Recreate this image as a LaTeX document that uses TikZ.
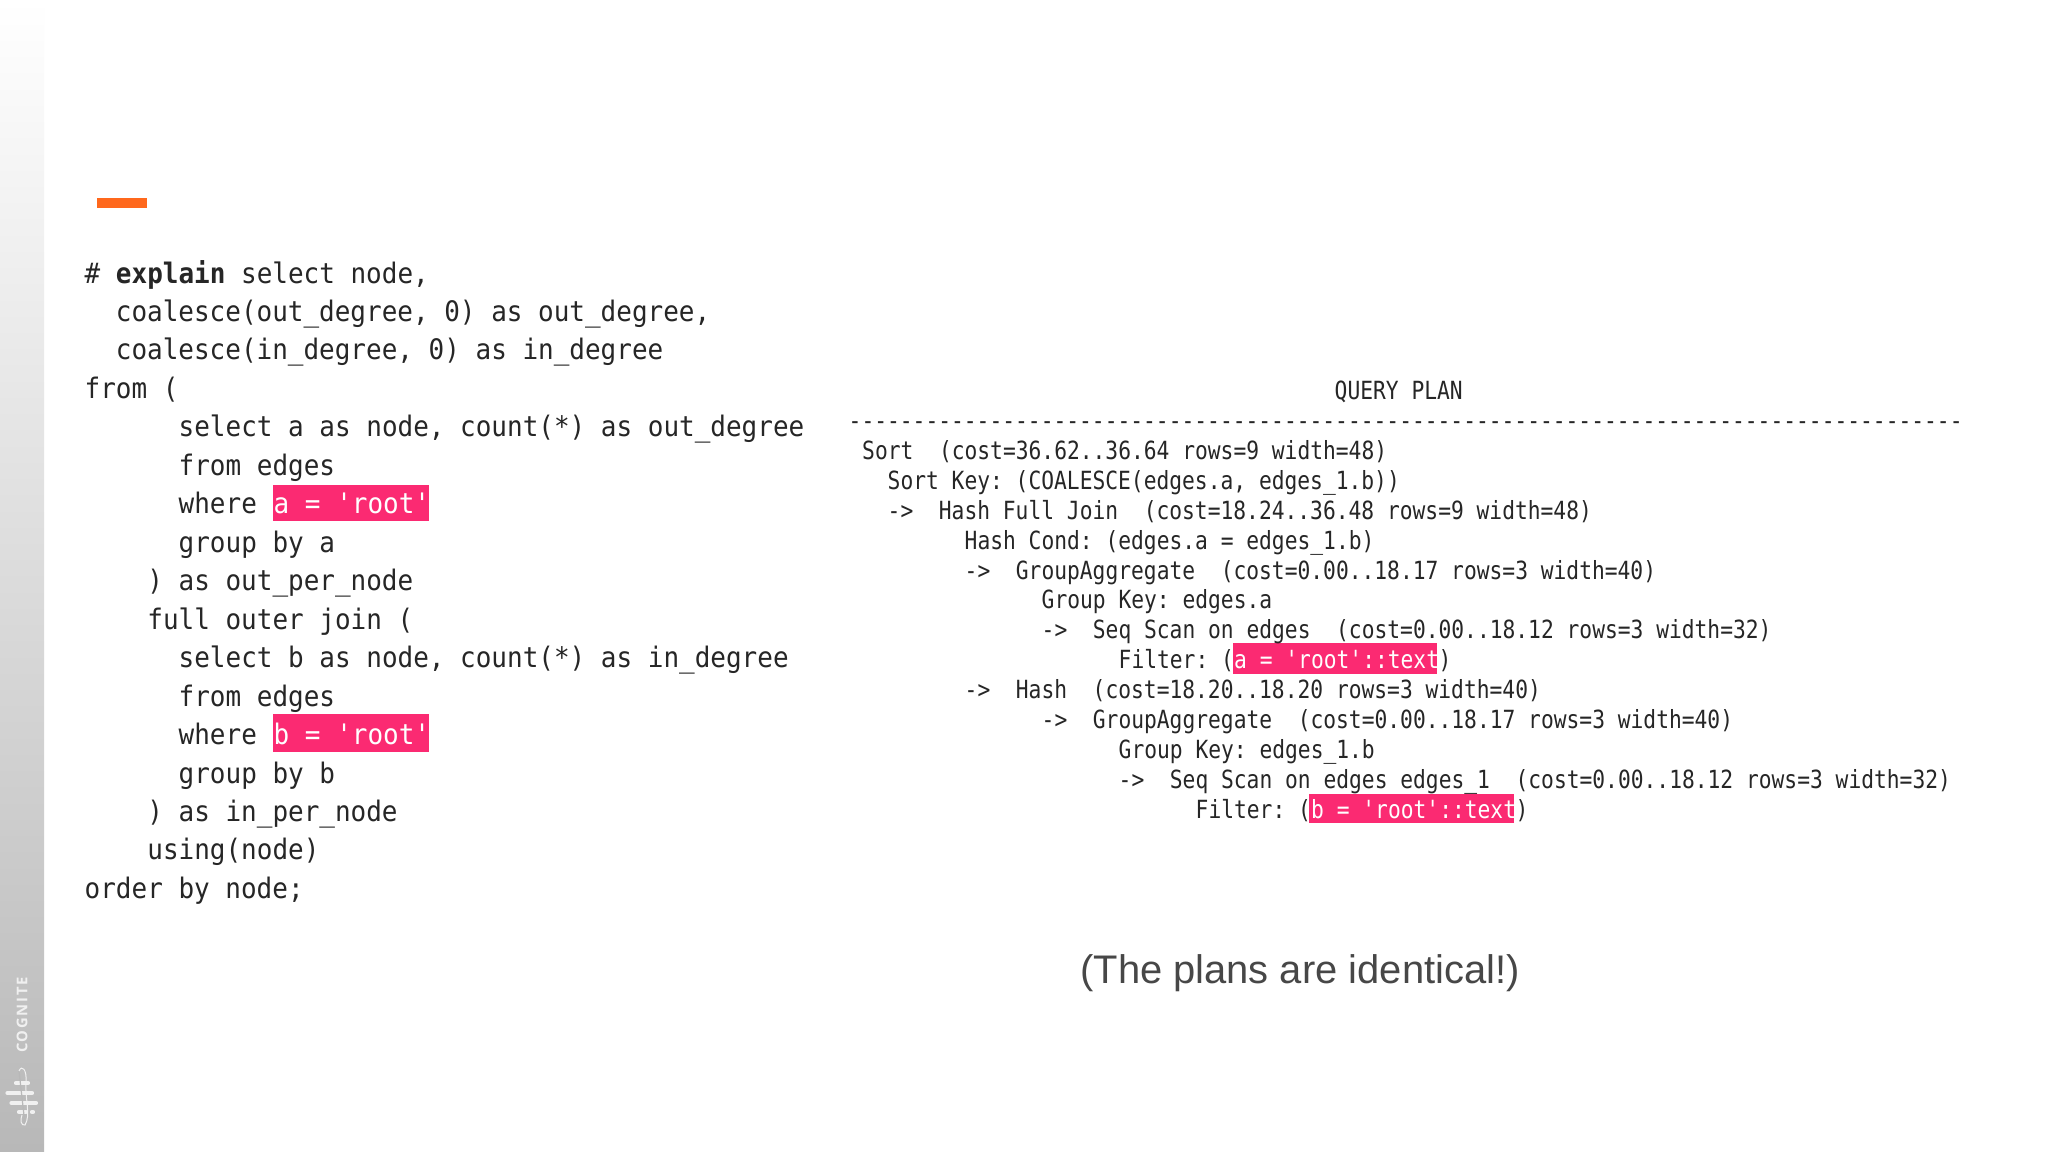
\documentclass[tikz,border=0pt]{standalone}
\usepackage{fontspec}
\usepackage{tikz}
\usetikzlibrary{positioning,calc}
\setmainfont{Liberation Sans}
\newfontfamily\brandfont[LetterSpace=12]{Open Sans}
\newfontfamily\leftmono[FakeStretch=0.92]{DejaVu Sans Mono}
\newfontfamily\rightmono[FakeStretch=0.85]{DejaVu Sans Mono}
\definecolor{barorange}{HTML}{FF681C}
\definecolor{hlpink}{HTML}{FB2A72}
\definecolor{codeink}{HTML}{262626}
\definecolor{sidegray}{HTML}{B8B8B8}
\frenchspacing
\tikzset{
  x=0.01cm,y=-0.01cm,
  leftcode/.style={anchor=base west,inner sep=0pt,text=codeink,font=\leftmono\fontsize{8.03}{9}\selectfont},
  rightcode/.style={anchor=base west,inner sep=0pt,text=codeink,font=\rightmono\fontsize{7.115}{9}\selectfont},
  hlbox/.style={fill=hlpink,draw=none},
  hltext/.style={text=white},
  logobar/.style={white!94!black,line width=0.042cm,line cap=round}
}
\newcommand{\us}{\_}
\begin{document}
\begin{tikzpicture}
  \useasboundingbox (0,0) rectangle (2048,1152);
  \fill[white] (0,0) rectangle (2048,1152);
  \shade[top color=white,bottom color=sidegray] (0,0) rectangle (44,1152);%side strip
  \fill[barorange] (97,198) rectangle (147,208);
  % highlights
  \fill[hlbox] (273,485) rectangle (429,521);
  \fill[hlbox] (273,714) rectangle (429,752);
  \fill[hlbox] (1233,643) rectangle (1437,674);
  \fill[hlbox] (1309,794) rectangle (1514,823);
  % left query
  \node[leftcode] (l1) at (84,283.7) {\# {\bfseries explain} select node,};
  \node[leftcode] (l2) at (115.2,321.7) {coalesce(out\us degree, 0) as out\us degree,};
  \node[leftcode] (l3) at (115.2,359.7) {coalesce(in\us degree, 0) as in\us degree};
  \node[leftcode] (l4) at (84,398.2) {from (};
  \node[leftcode] (l5) at (178,436.7) {select a as node, count(*) as out\us degree};
  \node[leftcode] (l6) at (178,475.2) {from edges};
  \node[leftcode] (l7) at (178,513.7) {where};
  \node[leftcode,hltext] (l7a) at (273,513.7) {a = 'root'};
  \node[leftcode] (l8) at (178,552.2) {group by a};
  \node[leftcode] (l9) at (146.7,590.7) {) as out\us per\us node};
  \node[leftcode] (l10) at (146.7,629.2) {full outer join (};
  \node[leftcode] (l11) at (178,667.7) {select b as node, count(*) as in\us degree};
  \node[leftcode] (l12) at (178,706.2) {from edges};
  \node[leftcode] (l13) at (178,744.7) {where};
  \node[leftcode,hltext] (l13a) at (273,744.7) {b = 'root'};
  \node[leftcode] (l14) at (178,783.2) {group by b};
  \node[leftcode] (l15) at (146.7,821.2) {) as in\us per\us node};
  \node[leftcode] (l16) at (146.7,859.7) {using(node)};
  \node[leftcode] (l17) at (84,898.2) {order by node;};
  % right plan
  \node[rightcode] (r0) at (1334,400) {QUERY PLAN};
  \node[rightcode] (rule) at (848,429.5) {---------------------------------------------------------------------------------------};
  \node[rightcode] (r1) at (861.5,459.5) {Sort~~(cost=36.62..36.64 rows=9 width=48)};
  \node[rightcode] (r2) at (887,489.4) {Sort Key: (COALESCE(edges.a, edges\us 1.b))};
  \node[rightcode] (r3) at (887,519.3) {->~~Hash Full Join~~(cost=18.24..36.48 rows=9 width=48)};
  \node[rightcode] (r4) at (964,549.2) {Hash Cond: (edges.a = edges\us 1.b)};
  \node[rightcode] (r5) at (964,579.1) {->~~GroupAggregate~~(cost=0.00..18.17 rows=3 width=40)};
  \node[rightcode] (r6) at (1041,609) {Group Key: edges.a};
  \node[rightcode] (r7) at (1041,638.9) {->~~Seq Scan on edges~~(cost=0.00..18.12 rows=3 width=32)};
  \node[rightcode] (r8) at (1118,668.8) {Filter: (};
  \node[rightcode,hltext] (r8a) at (1233.5,668.8) {a = 'root'::text};
  \node[rightcode] (r8b) at (1438,668.8) {)};
  \node[rightcode] (r9) at (964,698.7) {->~~Hash~~(cost=18.20..18.20 rows=3 width=40)};
  \node[rightcode] (r10) at (1041,728.6) {->~~GroupAggregate~~(cost=0.00..18.17 rows=3 width=40)};
  \node[rightcode] (r11) at (1118,758.5) {Group Key: edges\us 1.b};
  \node[rightcode] (r12) at (1118,788.4) {->~~Seq Scan on edges edges\us 1~~(cost=0.00..18.12 rows=3 width=32)};
  \node[rightcode] (r13) at (1195,818.3) {Filter: (};
  \node[rightcode,hltext] (r13a) at (1310.5,818.3) {b = 'root'::text};
  \node[rightcode] (r13b) at (1515,818.3) {)};
  % note
  \node[text=black!72,font=\fontsize{11.35}{14}\selectfont] (note) at (1300,973) {(The plans are identical!)};
  % logo
  \node[rotate=90,text=white!94!black,font=\brandfont\fontsize{4.2}{6}\selectfont\bfseries] (brand) at (22,1015) {COGNITE};
  \draw[logobar] (16,1083) -- (28,1083);
  \draw[logobar] (7.5,1093) -- (32,1093);
  \draw[logobar] (11.5,1103) -- (36,1103);
  \draw[logobar] (19,1112) -- (26,1112);
  \draw[logobar] (32,1112) -- (33,1112);
  \draw[sidegray,line width=0.012cm] (19,1071) -- (25,1124);
  \draw[white!94!black,line width=0.01cm] (19,1071) .. controls (22,1064) and (27,1070) .. (26,1082)
    .. controls (25,1100) and (31,1115) .. (25,1125) .. controls (21,1126) and (20,1120) .. (22,1115);
\end{tikzpicture}
\end{document}
